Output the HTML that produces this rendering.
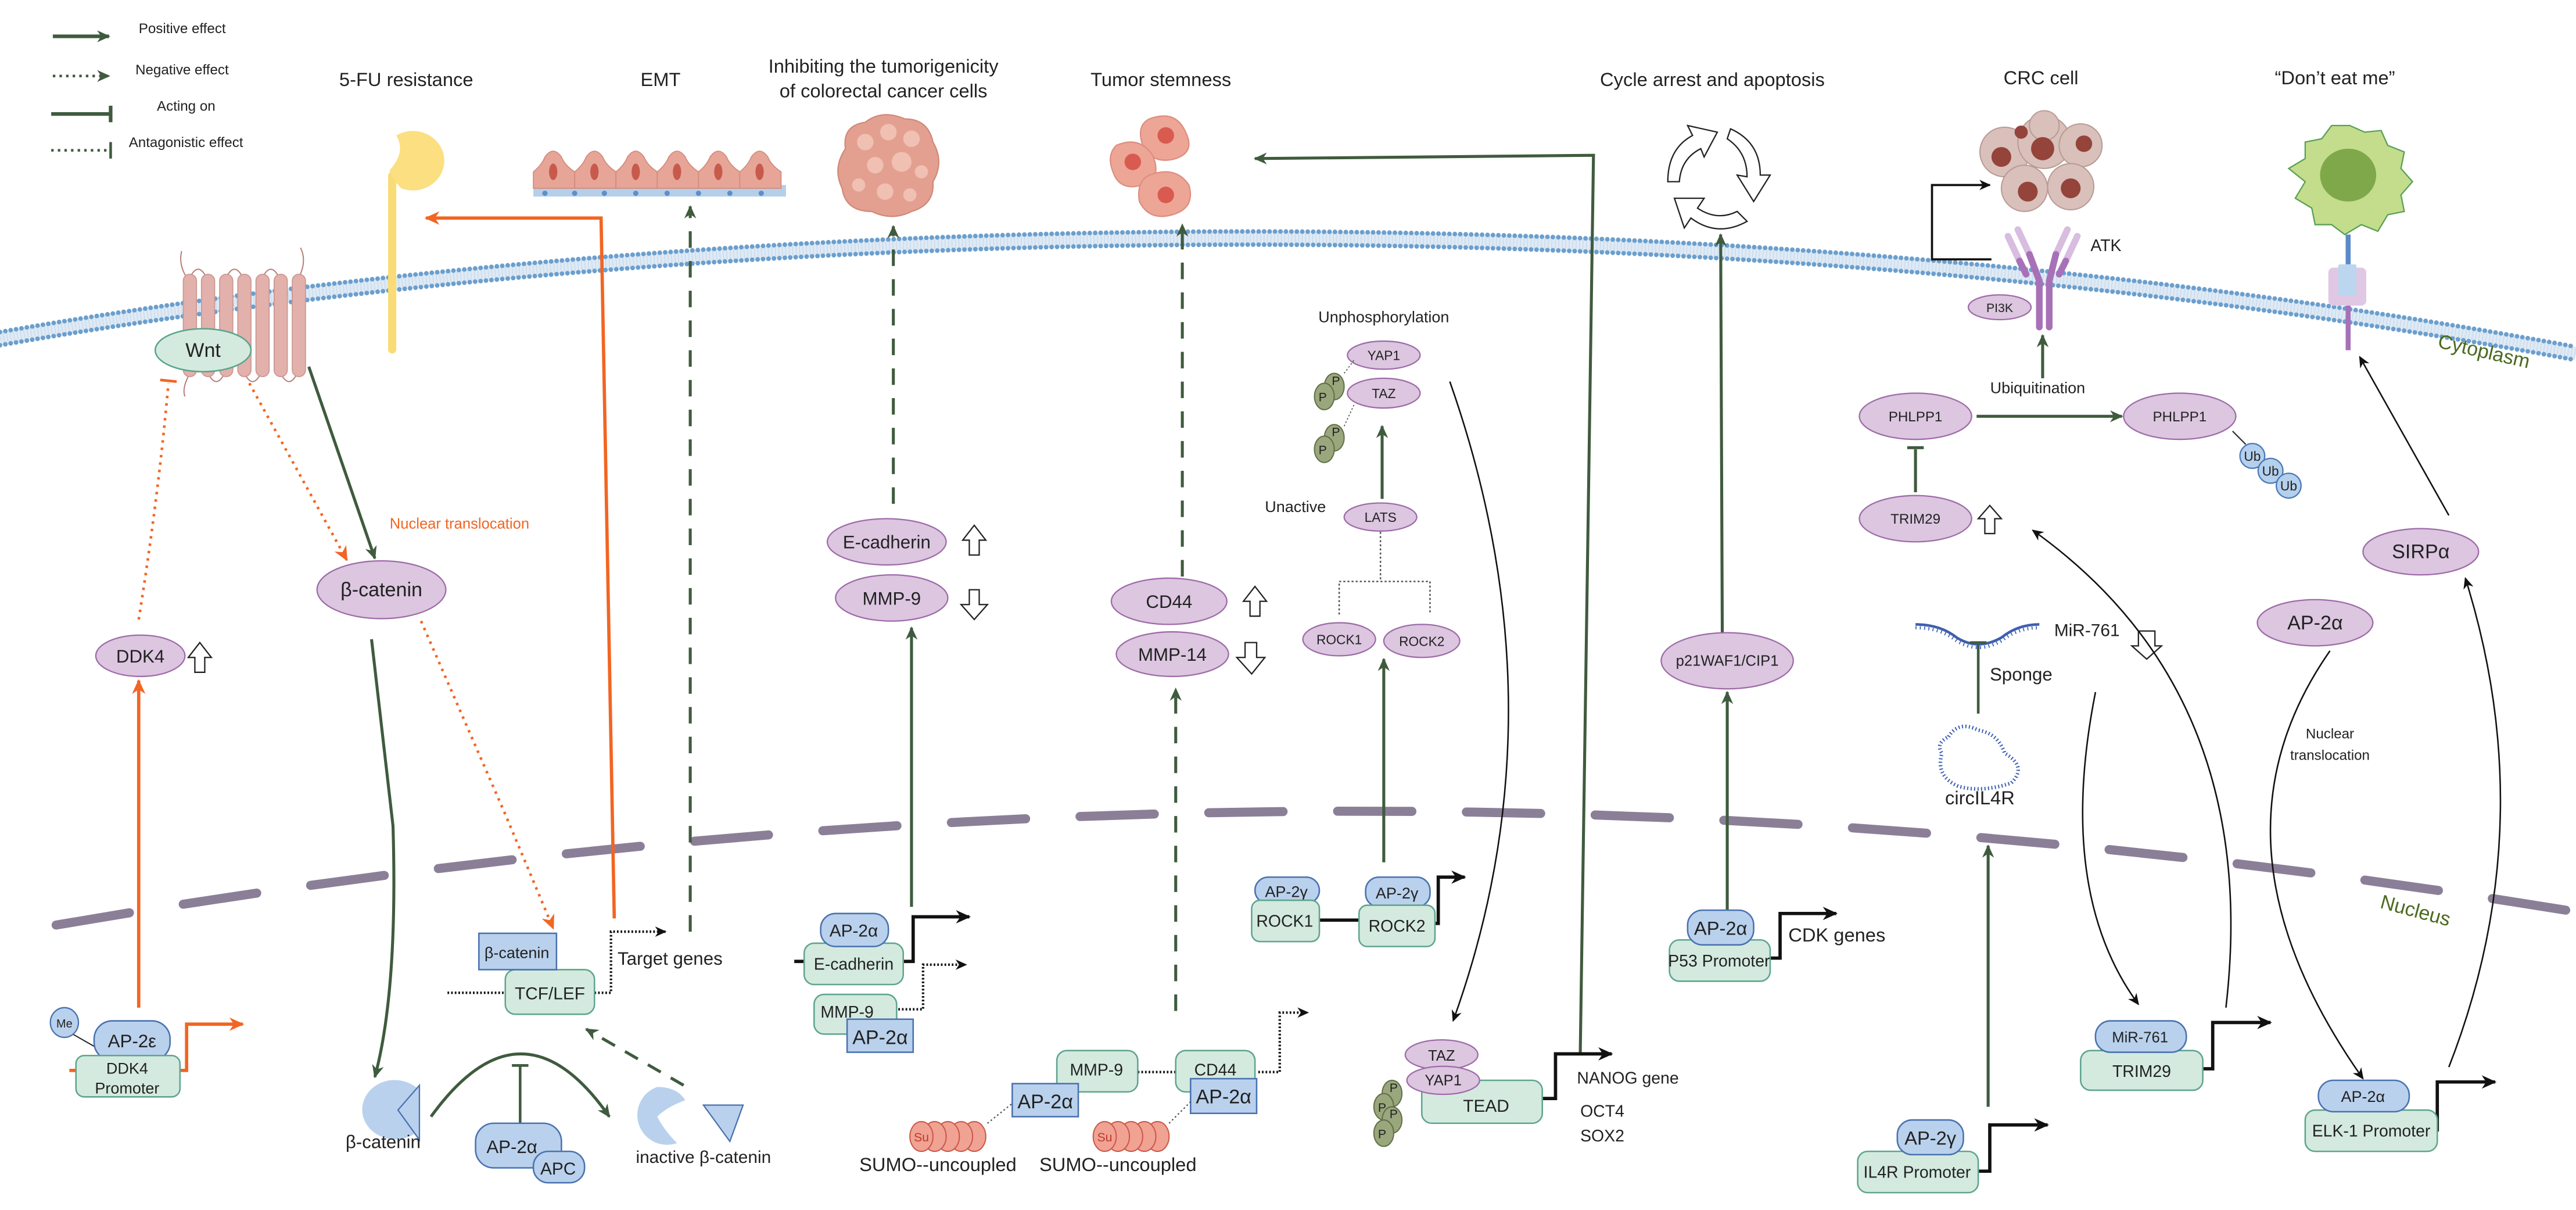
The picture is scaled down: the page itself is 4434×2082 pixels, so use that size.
<!DOCTYPE html>
<html><head><meta charset="utf-8">
<style>
html,body{margin:0;padding:0;background:#fff;}
svg{display:block;}
text{font-family:"Liberation Sans","DejaVu Sans",sans-serif;fill:#222;}
</style></head>
<body>
<svg width="4434" height="2082" viewBox="0 0 1560 732.5" xmlns="http://www.w3.org/2000/svg">
<defs>
<marker id="ag" viewBox="0 0 10 10" refX="9" refY="5" markerWidth="8" markerHeight="8" markerUnits="userSpaceOnUse" orient="auto"><path d="M0,0.5 L10,5 L0,9.5 L3,5z" fill="#3f5b3e"/></marker>
<marker id="ab" viewBox="0 0 10 10" refX="9" refY="5" markerWidth="7" markerHeight="7" markerUnits="userSpaceOnUse" orient="auto"><path d="M0,0.5 L10,5 L0,9.5 L3,5z" fill="#111"/></marker>
<marker id="abb" viewBox="0 0 10 10" refX="9" refY="5" markerWidth="9" markerHeight="9" markerUnits="userSpaceOnUse" orient="auto"><path d="M0,0.5 L10,5 L0,9.5 L3,5z" fill="#111"/></marker>
<marker id="ao" viewBox="0 0 10 10" refX="9" refY="5" markerWidth="9" markerHeight="9" markerUnits="userSpaceOnUse" orient="auto"><path d="M0,0.5 L10,5 L0,9.5 L3,5z" fill="#f26522"/></marker>
</defs>

<!-- membrane -->
<g fill="none">
<path d="M0,205 C400,135 1000,110 1560,214" stroke="#dfeaf5" stroke-width="8"/>
<path d="M0,205 C400,135 1000,110 1560,214" stroke="#b9d1e8" stroke-width="6" stroke-dasharray="0.5 1.6" opacity="0.6"/>
<path transform="translate(0,-4)" d="M0,205 C400,135 1000,110 1560,214" stroke="#6b9fcd" stroke-width="2.8" stroke-dasharray="0 3.3" stroke-linecap="round"/>
<path transform="translate(0,4)" d="M0,205 C400,135 1000,110 1560,214" stroke="#6b9fcd" stroke-width="2.8" stroke-dasharray="0 3.3" stroke-linecap="round"/>
</g>
<!-- nuclear envelope -->
<path d="M34,560 C500,480 1000,460 1560,552" fill="none" stroke="#8b7f98" stroke-width="5.5" stroke-dasharray="45 33" stroke-linecap="round"/>
<text x="1475" y="217" font-size="12" style="fill:#4b6a1f" transform="rotate(13 1505 217)">Cytoplasm</text>
<text x="1440" y="556" font-size="12" style="fill:#4b6a1f" transform="rotate(15 1465 556)">Nucleus</text>

<!-- legend -->
<g stroke="#3f5b3e" stroke-width="2.2" fill="none">
<line x1="32" y1="22" x2="66" y2="22" marker-end="url(#ag)"/>
<line x1="32" y1="46" x2="66" y2="46" stroke-dasharray="1.5 2.5" stroke-width="1.6" marker-end="url(#ag)"/>
<line x1="31" y1="69" x2="66" y2="69"/><line x1="67" y1="64" x2="67" y2="74"/>
<line x1="31" y1="91" x2="66" y2="91" stroke-dasharray="1.5 2.5" stroke-width="1.6"/><line x1="67" y1="86" x2="67" y2="96" stroke-width="1.6"/>
</g>
<text x="84" y="20" font-size="8.5">Positive effect</text>
<text x="82" y="45" font-size="8.5">Negative effect</text>
<text x="95" y="67" font-size="8.5">Acting on</text>
<text x="78" y="89" font-size="8.5">Antagonistic effect</text>

<!-- titles -->
<g font-size="11.5" text-anchor="middle">
<text x="246" y="52">5-FU resistance</text>
<text x="400" y="52">EMT</text>
<text x="535" y="44">Inhibiting the tumorigenicity</text>
<text x="535" y="59">of colorectal cancer cells</text>
<text x="703" y="52">Tumor stemness</text>
<text x="1037" y="52">Cycle arrest and apoptosis</text>
<text x="1236" y="51">CRC cell</text>
<text x="1414" y="51">“Don’t eat me”</text>
</g>

<!-- 5-FU receptor -->
<rect x="235" y="104" width="5" height="110" rx="2.5" fill="#f9dc78"/>
<path d="M240,82 A19,18 0 1 1 243,114 Q237,108 236,103 Q246,92 240,82 Z" fill="#fbdf80"/>
<!-- orange 5-FU arrow -->
<path d="M372,556 L364,132 L258,132" fill="none" stroke="#f26522" stroke-width="2" marker-end="url(#ao)"/>

<!-- EMT cells -->
<g>
<rect x="323" y="112" width="153" height="7" fill="#b5cfe9"/>
<g fill="#e6a597" stroke="#d38a7c" stroke-width="0.6">
<path d="M323,114 L323,104 Q328,100 330,95 Q335,88 340,95 Q342,100 348,104 L348,114 Z"/>
<path d="M348,114 L348,104 Q353,100 355,95 Q360,88 365,95 Q367,100 373,104 L373,114 Z"/>
<path d="M373,114 L373,104 Q378,100 380,95 Q385,88 390,95 Q392,100 398,104 L398,114 Z"/>
<path d="M398,114 L398,104 Q403,100 405,95 Q410,88 415,95 Q417,100 423,104 L423,114 Z"/>
<path d="M423,114 L423,104 Q428,100 430,95 Q435,88 440,95 Q442,100 448,104 L448,114 Z"/>
<path d="M448,114 L448,104 Q453,100 455,95 Q460,88 465,95 Q467,100 473,104 L473,114 Z"/>
</g>
<g fill="#c75a4c"><ellipse cx="335" cy="104" rx="2.5" ry="5"/><ellipse cx="360" cy="104" rx="2.5" ry="5"/><ellipse cx="385" cy="104" rx="2.5" ry="5"/><ellipse cx="410" cy="104" rx="2.5" ry="5"/><ellipse cx="435" cy="104" rx="2.5" ry="5"/><ellipse cx="460" cy="104" rx="2.5" ry="5"/></g>
<g fill="#5e8fc6"><circle cx="330" cy="117" r="1.6"/><circle cx="348" cy="117" r="1.6"/><circle cx="366" cy="117" r="1.6"/><circle cx="385" cy="117" r="1.6"/><circle cx="404" cy="117" r="1.6"/><circle cx="423" cy="117" r="1.6"/><circle cx="442" cy="117" r="1.6"/><circle cx="461" cy="117" r="1.6"/></g>
</g>
<line x1="418" y1="564" x2="418" y2="125" stroke="#3f5b3e" stroke-width="1.8" stroke-dasharray="10 8" marker-end="url(#ag)"/>

<!-- tumor blob -->
<g>
<path d="M512,90 Q510,76 524,74 Q534,66 548,72 Q562,72 565,86 Q572,98 565,110 Q566,124 552,128 Q540,134 528,128 Q512,128 510,114 Q504,102 512,90 Z" fill="#e3a091" stroke="#d08a7a" stroke-width="0.8"/>
<g fill="#f0c0b3"><circle cx="524" cy="86" r="5"/><circle cx="538" cy="80" r="5"/><circle cx="552" cy="84" r="5"/><circle cx="530" cy="100" r="5"/><circle cx="546" cy="98" r="6"/><circle cx="558" cy="104" r="4"/><circle cx="520" cy="112" r="4"/><circle cx="536" cy="116" r="5"/><circle cx="551" cy="118" r="4"/></g>
</g>
<line x1="541" y1="305" x2="541" y2="137" stroke="#3f5b3e" stroke-width="1.8" stroke-dasharray="10 8" marker-end="url(#ag)"/>

<!-- tumor stemness cells -->
<g stroke="#dc8f80" stroke-width="0.8" fill="#eda596">
<path d="M696,72 Q712,66 718,80 Q724,92 712,96 Q698,100 692,88 Q688,76 696,72 Z"/>
<path d="M676,88 Q690,82 698,94 Q704,108 692,112 Q678,116 674,104 Q670,94 676,88 Z"/>
<path d="M696,106 Q712,100 720,112 Q724,126 710,130 Q696,134 690,122 Q688,110 696,106 Z"/>
</g>
<g fill="#d95b4f"><circle cx="706" cy="82" r="5"/><circle cx="686" cy="98" r="5"/><circle cx="706" cy="118" r="5"/></g>
<line x1="716" y1="349" x2="716" y2="136" stroke="#3f5b3e" stroke-width="1.8" stroke-dasharray="10 8" marker-end="url(#ag)"/>
<line x1="712" y1="612" x2="712" y2="417" stroke="#3f5b3e" stroke-width="1.8" stroke-dasharray="10 8" marker-end="url(#ag)"/>

<!-- TEAD long arrow -->
<path d="M957,637 L965,94 L760,96" fill="none" stroke="#3f5b3e" stroke-width="1.8" marker-end="url(#ag)"/>

<!-- recycle icon -->
<g fill="#fff" stroke="#222" stroke-width="0.8">
<path d="M1010,110 Q1010,90 1025,82 L1022,76 L1040,80 L1032,95 L1030,90 Q1018,96 1017,110 Z"/>
<path d="M1048,78 Q1066,86 1066,106 L1072,106 L1062,122 L1052,106 L1058,107 Q1058,92 1046,84 Z"/>
<path d="M1058,134 Q1040,144 1024,132 L1020,138 L1014,120 L1032,120 L1028,126 Q1040,134 1052,128 Z"/>
</g>
<line x1="1043" y1="383" x2="1042" y2="142" stroke="#3f5b3e" stroke-width="1.8" marker-end="url(#ag)"/>

<!-- CRC cell cluster -->
<g stroke="#b89a94" stroke-width="0.7" fill="#d9c0ba">
<circle cx="1214" cy="92" r="15"/><circle cx="1238" cy="86" r="16"/><circle cx="1260" cy="88" r="13"/>
<circle cx="1226" cy="114" r="14"/><circle cx="1254" cy="113" r="14"/><circle cx="1238" cy="76" r="9"/>
</g>
<g fill="#94443a"><circle cx="1212" cy="95" r="6"/><circle cx="1237" cy="90" r="7"/><circle cx="1262" cy="87" r="5"/><circle cx="1228" cy="116" r="6"/><circle cx="1254" cy="114" r="6"/><circle cx="1224" cy="80" r="4"/></g>
<path d="M1206,157 L1170,157 L1170,112 L1205,112" fill="none" stroke="#111" stroke-width="1.3" marker-end="url(#ab)"/>

<!-- ATK receptor -->
<g stroke-linecap="round" fill="none">
<line x1="1216" y1="143" x2="1223" y2="158" stroke="#d8bde0" stroke-width="4"/>
<line x1="1223" y1="158" x2="1227" y2="166" stroke="#a771b8" stroke-width="4"/>
<line x1="1222" y1="139" x2="1229" y2="154" stroke="#d8bde0" stroke-width="4"/>
<path d="M1229,154 L1235,170 L1235,198" stroke="#a771b8" stroke-width="4"/>
<line x1="1258" y1="143" x2="1251" y2="158" stroke="#d8bde0" stroke-width="4"/>
<line x1="1251" y1="158" x2="1247" y2="166" stroke="#a771b8" stroke-width="4"/>
<line x1="1252" y1="139" x2="1245" y2="154" stroke="#d8bde0" stroke-width="4"/>
<path d="M1245,154 L1241,170 L1241,198" stroke="#a771b8" stroke-width="4"/>
</g>
<text x="1266" y="152" font-size="10">ATK</text>
<ellipse cx="1211" cy="186" rx="19" ry="7.5" fill="#dcc6e0" stroke="#9e6ba8" stroke-width="0.8"/>
<text x="1211" y="189" font-size="7.5" text-anchor="middle">PI3K</text>
<line x1="1237" y1="229" x2="1237" y2="203" stroke="#3f5b3e" stroke-width="1.8" marker-end="url(#ag)"/>
<text x="1234" y="238" font-size="9.5" text-anchor="middle">Ubiquitination</text>

<!-- PHLPP1 / TRIM29 -->
<g fill="#dcc6e0" stroke="#9e6ba8" stroke-width="0.8">
<ellipse cx="1160" cy="252" rx="34" ry="14"/><ellipse cx="1320" cy="252" rx="34" ry="14"/><ellipse cx="1160" cy="314" rx="34" ry="14"/>
</g>
<g font-size="8.5" text-anchor="middle"><text x="1160" y="255">PHLPP1</text><text x="1320" y="255">PHLPP1</text><text x="1160" y="317">TRIM29</text></g>
<line x1="1197" y1="252" x2="1285" y2="252" stroke="#3f5b3e" stroke-width="1.8" marker-end="url(#ag)"/>
<line x1="1160" y1="298" x2="1160" y2="272" stroke="#3f5b3e" stroke-width="1.8"/><line x1="1155" y1="271" x2="1165" y2="271" stroke="#3f5b3e" stroke-width="1.8"/>
<line x1="1352" y1="261" x2="1360" y2="269" stroke="#333" stroke-width="0.8"/>
<g fill="#b5d0ec" stroke="#4a7ab8" stroke-width="0.8"><circle cx="1364" cy="276" r="7.5"/><circle cx="1375" cy="285" r="7.5"/><circle cx="1386" cy="294" r="7.5"/></g>
<g font-size="8" text-anchor="middle"><text x="1364" y="279">Ub</text><text x="1375" y="288">Ub</text><text x="1386" y="297">Ub</text></g>
<path d="M1205,306 L1212,314 L1208,314 L1208,323 L1202,323 L1202,314 L1198,314 Z" fill="#fff" stroke="#222" stroke-width="0.8"/>

<!-- macrophage -->
<path d="M1423,76 L1432,80 L1442,79 L1446,88 L1456,92 L1454,102 L1461,110 L1454,118 L1456,128 L1446,130 L1440,140 L1430,136 L1420,142 L1412,136 L1402,136 L1400,126 L1390,120 L1396,110 L1386,102 L1396,96 L1396,86 L1406,84 L1412,76 Z" fill="#c3dd8c" stroke="#58a053" stroke-width="0.8"/>
<ellipse cx="1422" cy="106" rx="17" ry="16" fill="#7fa84a"/>
<line x1="1422" y1="142" x2="1422" y2="163" stroke="#5b8ac9" stroke-width="3"/>
<rect x="1410" y="162" width="23" height="23" rx="3" fill="#e0c8e4"/>
<rect x="1416" y="160" width="11" height="19" rx="1" fill="#bcd6ef"/>
<line x1="1422" y1="185" x2="1422" y2="212" stroke="#a771b8" stroke-width="3"/>
<line x1="1483" y1="312" x2="1429" y2="216" stroke="#111" stroke-width="0.9" marker-end="url(#ab)"/>

<!-- SIRPa, AP-2a cytoplasm -->
<ellipse cx="1466" cy="334" rx="35" ry="14" fill="#dcc6e0" stroke="#9e6ba8" stroke-width="0.8"/>
<text x="1466" y="338" font-size="12" text-anchor="middle">SIRPα</text>
<ellipse cx="1402" cy="377" rx="35" ry="14" fill="#dcc6e0" stroke="#9e6ba8" stroke-width="0.8"/>
<text x="1402" y="381" font-size="12" text-anchor="middle">AP-2α</text>
<path d="M1411,394 Q1330,510 1431,653" fill="none" stroke="#111" stroke-width="0.9" marker-end="url(#ab)"/>
<text x="1411" y="447" font-size="8.5" text-anchor="middle">Nuclear</text>
<text x="1411" y="460" font-size="8.5" text-anchor="middle">translocation</text>
<path d="M1483,646 Q1540,500 1493,350" fill="none" stroke="#111" stroke-width="0.9" marker-end="url(#ab)"/>

<!-- MiR-761 / circIL4R -->
<path d="M1160,378 Q1175,378 1185,386 Q1198,394 1212,386 Q1222,378 1235,378" fill="none" stroke="#3d5fb0" stroke-width="1.6"/>
<path d="M1160,380 Q1175,380 1185,388 Q1198,396 1212,388 Q1222,380 1235,380" fill="none" stroke="#3d5fb0" stroke-width="2" stroke-dasharray="0.6 2"/>
<text x="1244" y="385" font-size="10.5">MiR-761</text>
<path d="M1295,382 L1305,382 L1305,391 L1309,391 L1300,399 L1291,391 L1295,391 Z" fill="#fff" stroke="#222" stroke-width="0.8"/>
<line x1="1198" y1="432" x2="1198" y2="390" stroke="#3f5b3e" stroke-width="1.6"/><line x1="1193" y1="389" x2="1203" y2="389" stroke="#3f5b3e" stroke-width="1.6"/>
<text x="1205" y="412" font-size="11">Sponge</text>
<path d="M1180,446 Q1186,436 1198,442 Q1210,444 1214,456 Q1228,464 1218,474 Q1200,480 1186,476 Q1172,470 1176,456 Q1172,450 1180,446 Z" fill="none" stroke="#3d5fb0" stroke-width="2.2" stroke-dasharray="0.7 1.4"/>
<text x="1199" y="487" font-size="11.5" text-anchor="middle">circIL4R</text>
<path d="M1269,419 Q1245,540 1295,608" fill="none" stroke="#111" stroke-width="0.9" marker-end="url(#ab)"/>
<path d="M1348,610 Q1370,420 1231,321" fill="none" stroke="#111" stroke-width="0.9" marker-end="url(#ab)"/>

<!-- p21 -->
<ellipse cx="1046" cy="400" rx="40" ry="17" fill="#dcc6e0" stroke="#9e6ba8" stroke-width="0.8"/>
<text x="1046" y="403" font-size="9" text-anchor="middle">p21WAF1/CIP1</text>
<line x1="1046" y1="551" x2="1046" y2="419" stroke="#3f5b3e" stroke-width="1.8" marker-end="url(#ag)"/>

<!-- Hippo -->
<text x="838" y="195" font-size="9.5" text-anchor="middle">Unphosphorylation</text>
<g fill="#dcc6e0" stroke="#9e6ba8" stroke-width="0.8">
<ellipse cx="838" cy="215" rx="22" ry="8.5"/><ellipse cx="838" cy="238" rx="22" ry="9"/><ellipse cx="836" cy="313" rx="22" ry="8.5"/>
<ellipse cx="811" cy="387" rx="22" ry="10"/><ellipse cx="861" cy="388" rx="23" ry="10"/>
</g>
<g font-size="8" text-anchor="middle"><text x="838" y="218">YAP1</text><text x="838" y="241">TAZ</text><text x="836" y="316">LATS</text><text x="811" y="390">ROCK1</text><text x="861" y="391">ROCK2</text></g>
<text x="766" y="310" font-size="9.5">Unactive</text>
<g fill="#9aa67c" stroke="#5f6f47" stroke-width="0.7">
<ellipse cx="808" cy="234" rx="6" ry="8"/><ellipse cx="802" cy="240" rx="6" ry="8"/>
<ellipse cx="808" cy="265" rx="6" ry="8"/><ellipse cx="802" cy="272" rx="6" ry="8"/>
</g>
<g font-size="7.5" text-anchor="middle"><text x="809" y="233">P</text><text x="801" y="243">P</text><text x="809" y="264">P</text><text x="801" y="275">P</text></g>
<line x1="814" y1="226" x2="820" y2="218" stroke="#555" stroke-width="0.6" stroke-dasharray="1 1.2"/>
<line x1="814" y1="258" x2="820" y2="245" stroke="#555" stroke-width="0.6" stroke-dasharray="1 1.2"/>
<line x1="837" y1="302" x2="837" y2="258" stroke="#3f5b3e" stroke-width="1.8" marker-end="url(#ag)"/>
<path d="M836,322 L836,352 M811,372 L811,352 L866,352 L866,372" fill="none" stroke="#555" stroke-width="0.9" stroke-dasharray="1.2 1.3"/>
<line x1="838" y1="522" x2="838" y2="399" stroke="#3f5b3e" stroke-width="1.8" marker-end="url(#ag)"/>
<path d="M878,231 Q948,430 880,618" fill="none" stroke="#111" stroke-width="0.9" marker-end="url(#ab)"/>

<!-- E-cadherin / MMP-9 cytoplasm -->
<g fill="#dcc6e0" stroke="#9e6ba8" stroke-width="0.8">
<ellipse cx="537" cy="328" rx="36" ry="14"/><ellipse cx="540" cy="362" rx="34" ry="14"/>
<ellipse cx="708" cy="364" rx="35" ry="14"/><ellipse cx="710" cy="396" rx="34" ry="13.5"/>
</g>
<g font-size="11" text-anchor="middle"><text x="537" y="332">E-cadherin</text><text x="540" y="366">MMP-9</text><text x="708" y="368">CD44</text><text x="710" y="400">MMP-14</text></g>
<g fill="#fff" stroke="#222" stroke-width="0.8">
<path d="M590,318 L597,327 L593,327 L593,336 L587,336 L587,327 L583,327 Z"/>
<path d="M587,357 L593,357 L593,366 L598,366 L590,375 L582,366 L587,366 Z"/>
<path d="M760,355 L767,364 L763,364 L763,373 L757,373 L757,364 L753,364 Z"/>
<path d="M754,389 L761,389 L761,398 L766,398 L758,408 L749,398 L754,398 Z"/>
</g>
<line x1="552" y1="549" x2="552" y2="380" stroke="#3f5b3e" stroke-width="1.8" marker-end="url(#ag)"/>

<!-- Wnt receptor -->
<g stroke="#b57d78" stroke-width="0.7" fill="none">
<path d="M115,168 Q120,158 125,168 M137,168 Q142,158 147,168 M159,168 Q164,158 169,168 M181,168 Q186,158 182,150"/>
<path d="M126,226 Q131,236 136,226 M148,226 Q153,236 158,226 M170,226 Q175,236 180,226 M115,226 Q110,235 112,240"/>
<path d="M113,168 Q108,160 110,152"/>
</g>
<g fill="#e2b1ab" stroke="#cb9690" stroke-width="0.6">
<rect x="111" y="166" width="8" height="62" rx="4"/><rect x="122" y="166" width="8" height="62" rx="4"/><rect x="133" y="166" width="8" height="62" rx="4"/><rect x="144" y="166" width="8" height="62" rx="4"/><rect x="155" y="166" width="8" height="62" rx="4"/><rect x="166" y="166" width="8" height="62" rx="4"/><rect x="177" y="166" width="8" height="62" rx="4"/>
</g>
<ellipse cx="123" cy="212" rx="29" ry="13" fill="#d5eadf" stroke="#5aa58c" stroke-width="0.9"/>
<text x="123" y="216" font-size="12" text-anchor="middle">Wnt</text>

<!-- Wnt arrows -->
<line x1="187" y1="222" x2="227" y2="338" stroke="#3f5b3e" stroke-width="1.8" marker-end="url(#ag)"/>
<line x1="151" y1="232" x2="210" y2="339" stroke="#f26522" stroke-width="1.6" stroke-dasharray="1.5 3" marker-end="url(#ao)"/>
<path d="M84,375 Q96,300 102,232" fill="none" stroke="#f26522" stroke-width="1.6" stroke-dasharray="1.5 3"/>
<line x1="97" y1="230" x2="107" y2="231" stroke="#f26522" stroke-width="1.6"/>
<text x="236" y="320" font-size="9" style="fill:#f26522">Nuclear translocation</text>
<ellipse cx="231" cy="357" rx="39" ry="17.5" fill="#dcc6e0" stroke="#9e6ba8" stroke-width="0.8"/>
<text x="231" y="361" font-size="12" text-anchor="middle">β-catenin</text>
<ellipse cx="85" cy="397" rx="27" ry="12.5" fill="#dcc6e0" stroke="#9e6ba8" stroke-width="0.8"/>
<text x="85" y="401" font-size="11" text-anchor="middle">DDK4</text>
<path d="M121,389 L128,398 L124,398 L124,407 L118,407 L118,398 L114,398 Z" fill="#fff" stroke="#222" stroke-width="0.8"/>
<line x1="84" y1="610" x2="84" y2="412" stroke="#f26522" stroke-width="2" marker-end="url(#ao)"/>
<path d="M225,387 L238,500 Q241,600 227,652" fill="none" stroke="#3f5b3e" stroke-width="1.8" marker-end="url(#ag)"/>
<path d="M255,376 L306,493 L335,562" fill="none" stroke="#f26522" stroke-width="1.6" stroke-dasharray="1.5 3" marker-end="url(#ao)"/>

<!-- AP-2e DDK4 -->
<line x1="44" y1="626" x2="58" y2="634" stroke="#222" stroke-width="0.7"/>
<ellipse cx="39" cy="619" rx="8.5" ry="9" fill="#b9d1ec" stroke="#4a72b0" stroke-width="0.8"/>
<text x="39" y="622" font-size="7" text-anchor="middle">Me</text>
<line x1="42" y1="648" x2="47" y2="648" stroke="#f26522" stroke-width="2"/>
<path d="M109,648 L113,648 L113,620 L147,620" fill="none" stroke="#f26522" stroke-width="2" marker-end="url(#ao)"/>
<rect x="57" y="618" width="46" height="24" rx="11" fill="#b9d1ec" stroke="#4a72b0" stroke-width="0.9"/>
<text x="80" y="634" font-size="11" text-anchor="middle">AP-2ε</text>
<rect x="46" y="639" width="63" height="25" rx="5" fill="#d4eadf" stroke="#5fa58f" stroke-width="0.9"/>
<text x="77" y="650" font-size="9.5" text-anchor="middle">DDK4</text>
<text x="77" y="662" font-size="9.5" text-anchor="middle">Promoter</text>

<!-- TCF/LEF -->
<line x1="271" y1="601" x2="306" y2="601" stroke="#111" stroke-width="1.5" stroke-dasharray="1 1.2"/>
<path d="M360,601 L370,601 L370,564 L403,564" fill="none" stroke="#111" stroke-width="1.5" stroke-dasharray="1 1.2" marker-end="url(#ab)"/>
<rect x="306" y="587" width="54" height="27" rx="6" fill="#d4eadf" stroke="#5fa58f" stroke-width="0.9"/>
<text x="333" y="605" font-size="10.5" text-anchor="middle">TCF/LEF</text>
<rect x="290" y="565" width="47" height="22" fill="#b9d1ec" stroke="#4a72b0" stroke-width="0.9"/>
<text x="313" y="580" font-size="9.5" text-anchor="middle">β-catenin</text>
<text x="374" y="584" font-size="11">Target genes</text>

<!-- beta-catenin destruction -->
<path d="M236,654 A20,18 0 1 0 254,684 L242,671 L254,660 A20,18 0 0 0 236,654 Z" fill="#b9d1ec"/>
<path d="M254,657 L254,690 L241,672 Z" fill="#b9d1ec" stroke="#4a72b0" stroke-width="0.8"/>
<text x="232" y="695" font-size="11" text-anchor="middle">β-catenin</text>
<path d="M261,676 Q316,600 369,676" fill="none" stroke="#3f5b3e" stroke-width="1.8" marker-end="url(#ag)"/>
<line x1="315" y1="680" x2="315" y2="645" stroke="#3f5b3e" stroke-width="1.6"/><line x1="310" y1="645" x2="320" y2="645" stroke="#3f5b3e" stroke-width="1.6"/>
<rect x="288" y="680" width="52" height="27" rx="11" fill="#b9d1ec" stroke="#4a72b0" stroke-width="0.9"/>
<text x="310" y="698" font-size="11" text-anchor="middle">AP-2α</text>
<rect x="323" y="697" width="31" height="19" rx="9" fill="#b9d1ec" stroke="#4a72b0" stroke-width="0.9"/>
<text x="338" y="711" font-size="10.5" text-anchor="middle">APC</text>
<path d="M398,658 A18,18 0 1 0 410,692 Q402,684 398,676 Q404,670 415,666 Q410,658 398,658 Z" fill="#b9d1ec"/>
<path d="M426,669 L450,669 L442,691 Z" fill="#b9d1ec" stroke="#4a72b0" stroke-width="0.8"/>
<text x="426" y="704" font-size="10.5" text-anchor="middle">inactive β-catenin</text>
<line x1="414" y1="657" x2="355" y2="623" stroke="#3f5b3e" stroke-width="1.8" stroke-dasharray="9 7" marker-end="url(#ag)"/>

<!-- E-cadherin promoter complex -->
<line x1="481" y1="582" x2="487" y2="582" stroke="#111" stroke-width="2"/>
<path d="M547,582 L553,582 L553,555 L587,555" fill="none" stroke="#111" stroke-width="2" marker-end="url(#abb)"/>
<path d="M544,611 L559,611 L559,584 L585,584" fill="none" stroke="#111" stroke-width="1.5" stroke-dasharray="1 1.2" marker-end="url(#ab)"/>
<rect x="487" y="571" width="60" height="25" rx="6" fill="#d4eadf" stroke="#5fa58f" stroke-width="0.9"/>
<text x="517" y="587" font-size="10" text-anchor="middle">E-cadherin</text>
<rect x="497" y="553" width="41" height="20" rx="9" fill="#b9d1ec" stroke="#4a72b0" stroke-width="0.9"/>
<text x="517" y="567" font-size="10.5" text-anchor="middle">AP-2α</text>
<rect x="493" y="602" width="50" height="24" rx="6" fill="#d4eadf" stroke="#5fa58f" stroke-width="0.9"/>
<text x="513" y="616" font-size="10" text-anchor="middle">MMP-9</text>
<rect x="513" y="617" width="40" height="20" fill="#b9d1ec" stroke="#4a72b0" stroke-width="0.9"/>
<text x="533" y="632" font-size="12" text-anchor="middle">AP-2α</text>

<!-- MMP-9 / CD44 SUMO -->
<line x1="689" y1="649" x2="712" y2="649" stroke="#111" stroke-width="1.5" stroke-dasharray="1 1.2"/>
<path d="M762,649 L775,649 L775,613 L792,613" fill="none" stroke="#111" stroke-width="1.5" stroke-dasharray="1 1.2" marker-end="url(#ab)"/>
<rect x="640" y="636" width="49" height="25" rx="6" fill="#d4eadf" stroke="#5fa58f" stroke-width="0.9"/>
<text x="664" y="651" font-size="10" text-anchor="middle">MMP-9</text>
<rect x="613" y="656" width="40" height="20" fill="#b9d1ec" stroke="#4a72b0" stroke-width="0.9"/>
<text x="633" y="671" font-size="12" text-anchor="middle">AP-2α</text>
<rect x="712" y="636" width="48" height="25" rx="6" fill="#d4eadf" stroke="#5fa58f" stroke-width="0.9"/>
<text x="736" y="651" font-size="10" text-anchor="middle">CD44</text>
<rect x="721" y="653" width="40" height="21" fill="#b9d1ec" stroke="#4a72b0" stroke-width="0.9"/>
<text x="741" y="668" font-size="12" text-anchor="middle">AP-2α</text>
<line x1="598" y1="680" x2="613" y2="668" stroke="#555" stroke-width="0.8" stroke-dasharray="1 1.5"/>
<line x1="708" y1="680" x2="721" y2="667" stroke="#555" stroke-width="0.8" stroke-dasharray="1 1.5"/>
<g fill="#f0a293" stroke="#cc5546" stroke-width="0.7">
<ellipse cx="590" cy="688" rx="7" ry="9"/><ellipse cx="582" cy="688" rx="7" ry="9"/><ellipse cx="574" cy="688" rx="7" ry="9"/><ellipse cx="566" cy="688" rx="7" ry="9"/><ellipse cx="558" cy="688" rx="7" ry="9"/>
<ellipse cx="701" cy="688" rx="7" ry="9"/><ellipse cx="693" cy="688" rx="7" ry="9"/><ellipse cx="685" cy="688" rx="7" ry="9"/><ellipse cx="677" cy="688" rx="7" ry="9"/><ellipse cx="669" cy="688" rx="7" ry="9"/>
</g>
<text x="558" y="691" font-size="7.5" text-anchor="middle" style="fill:#c0392b">Su</text>
<text x="669" y="691" font-size="7.5" text-anchor="middle" style="fill:#c0392b">Su</text>
<text x="568" y="709" font-size="11.5" text-anchor="middle">SUMO--uncoupled</text>
<text x="677" y="709" font-size="11.5" text-anchor="middle">SUMO--uncoupled</text>

<!-- ROCK complex -->
<line x1="799" y1="557" x2="823" y2="557" stroke="#111" stroke-width="2"/>
<path d="M869,559 L871,559 L871,531 L887,531" fill="none" stroke="#111" stroke-width="2" marker-end="url(#abb)"/>
<rect x="760" y="531" width="39" height="16" rx="8" fill="#b9d1ec" stroke="#4a72b0" stroke-width="0.9"/>
<text x="779" y="543" font-size="9.5" text-anchor="middle">AP-2γ</text>
<rect x="758" y="545" width="41" height="25" rx="5" fill="#d4eadf" stroke="#5fa58f" stroke-width="0.9"/>
<text x="778" y="561" font-size="10" text-anchor="middle">ROCK1</text>
<rect x="827" y="531" width="39" height="18" rx="8" fill="#b9d1ec" stroke="#4a72b0" stroke-width="0.9"/>
<text x="846" y="544" font-size="9.5" text-anchor="middle">AP-2γ</text>
<rect x="823" y="548" width="46" height="25" rx="5" fill="#d4eadf" stroke="#5fa58f" stroke-width="0.9"/>
<text x="846" y="564" font-size="10" text-anchor="middle">ROCK2</text>

<!-- TEAD complex -->
<path d="M934,665 L942,665 L942,638 L976,638" fill="none" stroke="#111" stroke-width="2" marker-end="url(#abb)"/>
<rect x="861" y="654" width="73" height="26" rx="6" fill="#d4eadf" stroke="#5fa58f" stroke-width="0.9"/>
<text x="900" y="673" font-size="10.5" text-anchor="middle">TEAD</text>
<ellipse cx="873" cy="638.5" rx="22" ry="9" fill="#dcc6e0" stroke="#9e6ba8" stroke-width="0.8"/>
<ellipse cx="874" cy="654" rx="22" ry="8.5" fill="#dcc6e0" stroke="#9e6ba8" stroke-width="0.8"/>
<text x="873" y="642" font-size="9" text-anchor="middle">TAZ</text>
<text x="874" y="657" font-size="9" text-anchor="middle">YAP1</text>
<g fill="#9aa67c" stroke="#5f6f47" stroke-width="0.7">
<ellipse cx="843" cy="662" rx="6" ry="8"/><ellipse cx="838" cy="670" rx="6" ry="8"/>
<ellipse cx="843" cy="678" rx="6" ry="8"/><ellipse cx="838" cy="686" rx="6" ry="8"/>
</g>
<g font-size="7.5" text-anchor="middle"><text x="844" y="661">P</text><text x="837" y="673">P</text><text x="844" y="677">P</text><text x="837" y="689">P</text></g>
<text x="955" y="656" font-size="10">NANOG gene</text>
<text x="957" y="676" font-size="10">OCT4</text>
<text x="957" y="691" font-size="10">SOX2</text>

<!-- P53 -->
<path d="M1072,580 L1078,580 L1078,553 L1112,553" fill="none" stroke="#111" stroke-width="2" marker-end="url(#abb)"/>
<rect x="1011" y="569" width="61" height="25" rx="6" fill="#d4eadf" stroke="#5fa58f" stroke-width="0.9"/>
<text x="1041" y="585" font-size="10" text-anchor="middle">P53 Promoter</text>
<rect x="1022" y="551" width="40" height="21" rx="9" fill="#b9d1ec" stroke="#4a72b0" stroke-width="0.9"/>
<text x="1042" y="566" font-size="11.5" text-anchor="middle">AP-2α</text>
<text x="1083" y="570" font-size="11.5">CDK genes</text>

<!-- IL4R -->
<line x1="1204" y1="670" x2="1204" y2="512" stroke="#3f5b3e" stroke-width="1.8" marker-end="url(#ag)"/>
<path d="M1198,709 L1205,709 L1205,681 L1240,681" fill="none" stroke="#111" stroke-width="2" marker-end="url(#abb)"/>
<rect x="1125" y="697" width="73" height="25" rx="6" fill="#d4eadf" stroke="#5fa58f" stroke-width="0.9"/>
<text x="1161" y="713" font-size="10" text-anchor="middle">IL4R Promoter</text>
<rect x="1149" y="678" width="40" height="21" rx="9" fill="#b9d1ec" stroke="#4a72b0" stroke-width="0.9"/>
<text x="1169" y="693" font-size="11.5" text-anchor="middle">AP-2γ</text>

<!-- TRIM29 nucleus -->
<path d="M1334,647 L1340,647 L1340,619 L1375,619" fill="none" stroke="#111" stroke-width="2" marker-end="url(#abb)"/>
<rect x="1260" y="636" width="74" height="24" rx="6" fill="#d4eadf" stroke="#5fa58f" stroke-width="0.9"/>
<text x="1297" y="652" font-size="10" text-anchor="middle">TRIM29</text>
<rect x="1269" y="618" width="55" height="19" rx="9" fill="#b9d1ec" stroke="#4a72b0" stroke-width="0.9"/>
<text x="1296" y="631" font-size="9" text-anchor="middle">MiR-761</text>

<!-- ELK-1 -->
<path d="M1476,685 L1476,655 L1511,655" fill="none" stroke="#111" stroke-width="2" marker-end="url(#abb)"/>
<rect x="1396" y="672" width="80" height="25" rx="6" fill="#d4eadf" stroke="#5fa58f" stroke-width="0.9"/>
<text x="1436" y="688" font-size="10" text-anchor="middle">ELK-1 Promoter</text>
<rect x="1404" y="654" width="55" height="19" rx="9" fill="#b9d1ec" stroke="#4a72b0" stroke-width="0.9"/>
<text x="1431" y="667" font-size="9.5" text-anchor="middle">AP-2α</text>
</svg>
</body></html>
